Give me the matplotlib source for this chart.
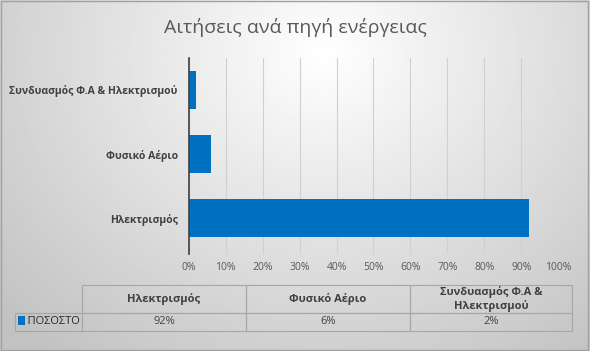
import numpy as np
import matplotlib
matplotlib.use("Agg")
import matplotlib.pyplot as plt
from matplotlib.patches import Rectangle
from matplotlib.ticker import PercentFormatter

# data
categories = ["Ηλεκτρισμός", "Φυσικό Αέριο", "Συνδυασμός Φ.Α & Ηλεκτρισμού"]
table_headers = ["Ηλεκτρισμός", "Φυσικό Αέριο", "Συνδυασμός Φ.Α &\nΗλεκτρισμού"]
values = [0.92, 0.06, 0.02]
series_name = "ΠΟΣΟΣΤΟ"
title = "Αιτήσεις ανά πηγή ενέργειας"

plt.rcParams['font.family'] = ['Open Sans', 'DejaVu Sans']
bar_color = "#0070C0"
text_color = "#404040"

fig = plt.figure(figsize=(5.9, 3.51), dpi=100)

# grey radial background
bg = fig.add_axes([0, 0, 1, 1], zorder=-10)
yy, xx = np.mgrid[0:1:200j, 0:1:300j]
r = np.sqrt(((xx - 0.55) / 0.75) ** 2 + ((yy - 0.15) / 1.1) ** 2)
bg.imshow(1 - 0.24 * np.clip(r, 0, 1), cmap="gray", vmin=0, vmax=1,
          extent=[0, 1, 0, 1], aspect="auto", origin="upper")
bg.set_xlim(0, 1)
bg.set_ylim(0, 1)
bg.axis("off")
bg.add_patch(Rectangle((0.002, 0.003), 0.995, 0.994, transform=bg.transAxes,
                       fill=False, edgecolor="#a0a0a0", linewidth=1))

fig.text(0.5, 0.923, title, ha="center", va="center", fontsize=14,
         color="#595959")

ax = fig.add_axes([0.320, 0.276, 0.626, 0.559])
ax.patch.set_alpha(0)
y = np.arange(len(categories))
ax.barh(y, values, height=0.6, color=bar_color, zorder=3)
ax.set_xlim(0, 1)
ax.set_ylim(-0.56, 2.5)
ax.set_xticks(np.linspace(0, 1, 11))
ax.xaxis.set_major_formatter(PercentFormatter(1.0, decimals=0))
ax.set_yticks(y)
ax.set_yticklabels(categories, fontsize=7.5, fontweight="bold", color=text_color)
ax.tick_params(axis="x", labelsize=7.5, labelcolor="#595959", length=0, pad=6)
ax.tick_params(axis="y", length=0, pad=8)
ax.grid(axis="x", color="#d0d0d0", linewidth=0.8, zorder=0)
for s in ["top", "right", "bottom"]:
    ax.spines[s].set_visible(False)
ax.spines["left"].set_color("#404040")
ax.spines["left"].set_linewidth(1.2)
ax.spines["left"].set_zorder(4)

# data table under the chart
tab_ax = fig.add_axes([15 / 590, 1 - 331 / 351, (572 - 15) / 590, 46 / 351])
tab_ax.axis("off")
cell_text = [[""] + table_headers,
             ["    " + series_name] + ["%d%%" % round(v * 100) for v in values]]
col_w = [67, 164, 164, 162]
tbl = tab_ax.table(cellText=cell_text, colWidths=[w / sum(col_w) for w in col_w],
                   bbox=[0, 0, 1, 1], cellLoc="center")
tbl.auto_set_font_size(False)
for (r_, c_), cell in tbl.get_celld().items():
    cell.set_edgecolor("#a6a6a6")
    cell.set_facecolor("none")
    cell.set_linewidth(0.8)
    cell.set_height(28 if r_ == 0 else 18)
    txt = cell.get_text()
    txt.set_color(text_color)
    txt.set_fontsize(8)
    if r_ == 0:
        txt.set_fontweight("bold")
    if r_ == 0 and c_ == 0:
        cell.visible_edges = "BR"
    if r_ == 1 and c_ == 0:
        txt.set_ha("left")
        cell.PAD = 0.02
        txt.set_fontsize(8)
        txt.set_color("#262626")
tab_ax.add_patch(Rectangle((0.006, 0.12), 0.012, 0.2, transform=tab_ax.transAxes,
                           facecolor=bar_color, edgecolor="none"))

fig.savefig("out.png", dpi=100)
